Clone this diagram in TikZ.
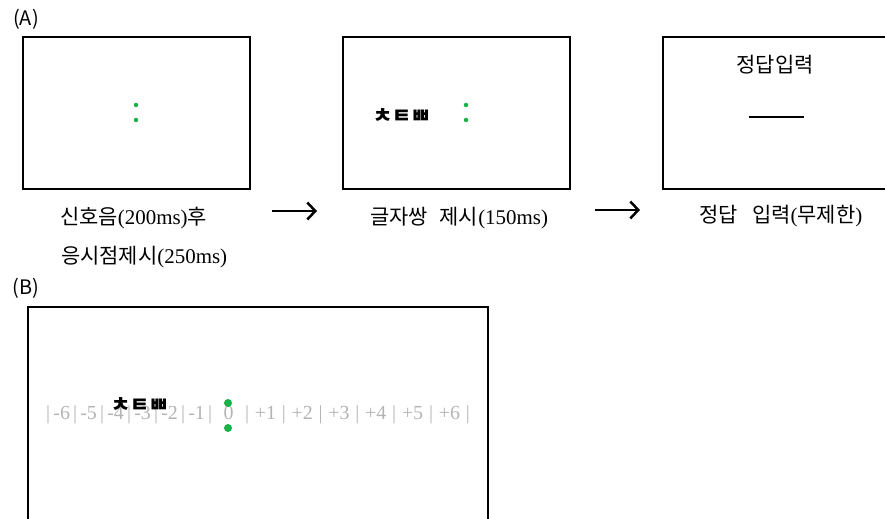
\documentclass[tikz,border=0pt]{standalone}
\usepackage{fontspec}
\setmainfont{Liberation Serif}
\newfontfamily\kr{Noto Sans CJK KR}
\usetikzlibrary{arrows.meta}
\definecolor{dotgreen}{RGB}{24,178,72}
\definecolor{numgray}{RGB}{180,180,180}
\newcommand{\lc}[1]{\makebox[23bp]{#1}}
\newcommand{\rc}[1]{\makebox[32.8bp]{#1}}
\begin{document}
\begin{tikzpicture}[x=1bp,y=-1bp,
  scr/.style={draw=black, line width=1.6bp, minimum width=227bp, minimum height=152bp, inner sep=0pt},
  bigscr/.style={draw=black, line width=1.6bp, minimum width=460bp, minimum height=240bp, inner sep=0pt},
  fix/.style={circle, fill=dotgreen, inner sep=0pt, minimum size=4.5bp},
  bigfix/.style={circle, fill=dotgreen, inner sep=0pt, minimum size=8bp},
  lab/.style={font=\fontsize{21}{24}\selectfont, inner sep=0pt},
  tag/.style={font=\kr\fontsize{20}{22}\selectfont, inner sep=0pt},
  jamo/.style={font=\kr\bfseries\fontsize{21}{23}\selectfont, inner sep=0pt},
  num/.style={font=\fontsize{20}{22}\selectfont, text=numgray, inner sep=0pt},
  flow/.style={-{Straight Barb[length=8bp,width=17bp]}, line width=2.5bp}
]
\useasboundingbox (0,0) rectangle (885,519);
% panel labels
\node[tag] (ta) at (26,19) {(A)};
\node[tag] (tb) at (26,288) {(B)};
% screens A
\node[scr] (s1) at (136.5,113) {};
\node[scr] (s2) at (456.5,113) {};
\node[scr] (s3) at (776.5,113) {};
% fixation dots
\node[fix] (d1a) at (136,105) {};
\node[fix] (d1b) at (136,120) {};
\node[fix] (d2a) at (466,105) {};
\node[fix] (d2b) at (466,120) {};
% stimulus
\node[jamo] (st2) at (402,116) {ㅊㅌㅃ};
% response screen
\node[lab, font=\kr\fontsize{21}{24}\selectfont] (rq) at (775,65) {정답입력};
\draw[line width=1.3bp] (749,117) -- (804,117);
% captions
\node[lab, anchor=west] (c1a) at (60,218) {{\kr 신호음}(200ms){\kr 후}};
\node[lab, anchor=west] (c1b) at (61,257) {{\kr 응시점제시}(250ms)};
\node[lab] (c2) at (459,218) {{\kr 글자쌍\hspace{12bp}제시}(150ms)};
\node[lab] (c3) at (781,216) {{\kr 정답\hspace{14bp}입력}({\kr 무제한})};
% arrows
\coordinate (a1s) at (272,211);
\coordinate (a1e) at (317,211);
\coordinate (a2s) at (595,210);
\coordinate (a2e) at (640,210);
\draw[flow] (a1s) -- (a1e);
\draw[flow] (a2s) -- (a2e);
% panel B
\node[bigscr, anchor=north west] (sb) at (27,306) {};
\node[num, anchor=west] (nl) at (46,415) {|\lc{-6}|\lc{-5}|\lc{-4}|\lc{-3}|\lc{-2}|\lc{-1}|\makebox[33bp]{0}|\rc{+1}|\rc{+2}|\rc{+3}|\rc{+4}|\rc{+5}|\rc{+6}|};
\node[bigfix] (dba) at (228,403) {};
\node[bigfix] (dbb) at (228,428) {};
\node[jamo] (stb) at (140,405) {ㅊㅌㅃ};
\end{tikzpicture}
\end{document}
